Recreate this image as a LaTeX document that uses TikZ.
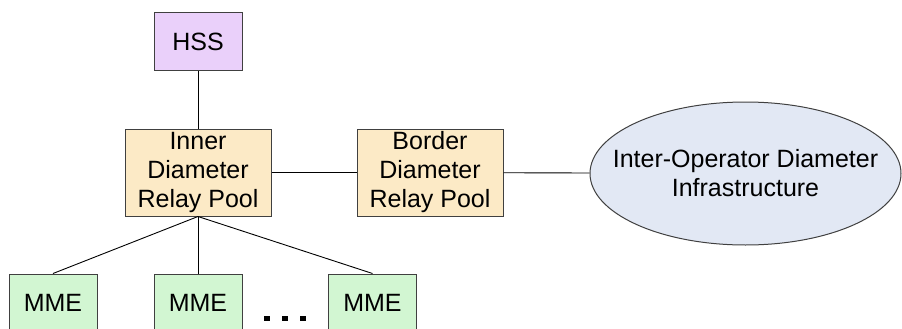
\documentclass[tikz,border=0pt]{standalone}
\usepackage{fontspec}
\setmainfont{Liberation Sans}
\usetikzlibrary{shapes.geometric}
\definecolor{hssfill}{RGB}{234,208,250}
\definecolor{relayfill}{RGB}{252,234,198}
\definecolor{mmefill}{RGB}{210,246,210}
\definecolor{ipxfill}{RGB}{226,232,244}
\definecolor{edge}{RGB}{64,64,64}
\tikzset{
  box/.style={draw=edge,line width=1pt,minimum width=88pt,minimum height=58pt,
    inner sep=0pt,font=\fontsize{25}{29}\selectfont,align=center},
  relay/.style={box,fill=relayfill,minimum width=146pt,minimum height=87pt},
  link/.style={line width=0.9pt,black}
}
\begin{document}
\begin{tikzpicture}[x=1pt,y=-1pt]
  % Page size (pixels of the reference)
  \useasboundingbox (0,0) rectangle (902,329);

  % Core nodes
  \node[box,fill=hssfill] (hss) at (198,42) {HSS};
  \node[relay] (idr) at (198,172.5) {Inner\\Diameter\\Relay Pool};
  \node[relay] (bdr) at (430,172.5) {Border\\Diameter\\Relay Pool};
  \node[ellipse,draw=edge,line width=1pt,fill=ipxfill,minimum width=311pt,
        minimum height=143pt,inner xsep=-24pt,inner ysep=0pt,align=center,
        font=\fontsize{25}{29}\selectfont] (ipx) at (745.5,173.5)
        {Inter-Operator Diameter\\Infrastructure};

  % MME boxes
  \foreach \i/\x in {1/53,2/198,3/372.5}{
    \node[box,fill=mmefill] (mme\i) at (\x,303) {MME};
    \draw[link] (idr.south) -- (mme\i.north);
  }

  % Dots between the MMEs
  \foreach \x in {267,285,303}
    \fill (\x-2.6,315.5) rectangle (\x+2.6,321);

  % Links
  \draw[link] (hss) -- (idr);
  \draw[link] (idr) -- (bdr);
  \draw[link] (bdr) -- (ipx);
\end{tikzpicture}
\end{document}
